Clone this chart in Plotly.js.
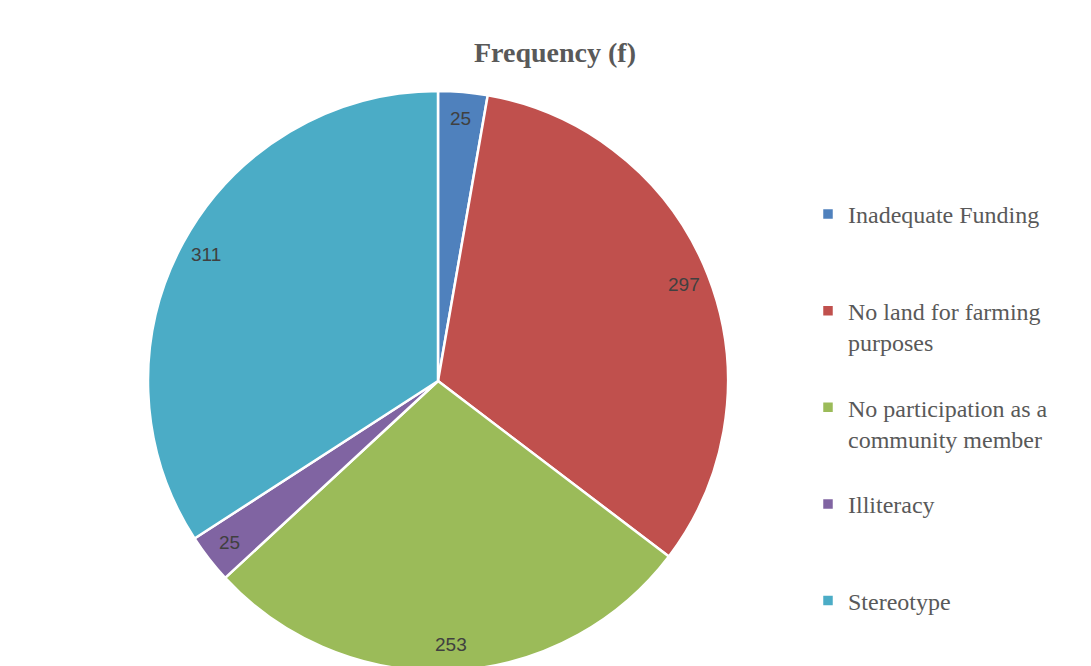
<!DOCTYPE html>
<html>
<head>
<meta charset="utf-8">
<script src="https://cdn.plot.ly/plotly-3.0.1.min.js"></script>
<style>
html,body{margin:0;padding:0;overflow:hidden;background:#fff;}
#chart{width:1091px;height:680px;}
</style>
</head>
<body>
<div id="chart"></div>
<script>
// Data
const categories = ["Inadequate Funding", "No land for farming purposes", "No participation as a community member", "Illiteracy", "Stereotype"];
const legendLabels = ["Inadequate Funding<br> <br> ", "No land for farming<br>purposes<br> ", "No participation as a<br>community member<br> ", "Illiteracy<br> <br> ", "Stereotype"];
const frequencies = [25, 297, 253, 25, 311];
const sliceColors = ["#4F81BD", "#C0504D", "#9BBB59", "#8064A2", "#4BACC6"];

// Layout geometry (pixels)
const W = 1091, H = 680;
const cx = 438, cy = 381, R = 290;

const trace = {
  type: "pie",
  labels: legendLabels,
  values: frequencies,
  sort: false,
  direction: "clockwise",
  rotation: 0,
  marker: {colors: sliceColors, line: {color: "#ffffff", width: 2.5}},
  textinfo: "none",
  hoverinfo: "label+value",
  domain: {x: [(cx - R) / W, (cx + R) / W], y: [1 - (cy + R) / H, 1 - (cy - R) / H]}
};

// value labels placed near the rim at each slice's mid-angle
const total = frequencies.reduce((a, b) => a + b, 0);
let cum = 0;
const annotations = frequencies.map((v) => {
  const mid = (cum + v / 2) / total * 2 * Math.PI;
  cum += v;
  const r = R * 0.91;
  const px = cx + r * Math.sin(mid);
  const py = cy - r * Math.cos(mid);
  return {
    text: String(v), x: px / W, y: 1 - py / H, xref: "paper", yref: "paper",
    showarrow: false, xanchor: "center", yanchor: "middle",
    font: {family: "Liberation Sans, Arial, sans-serif", size: 19, color: "#404040"}
  };
});

const layout = {
  width: W, height: H,
  margin: {l: 0, r: 0, t: 0, b: 0},
  paper_bgcolor: "#ffffff",
  title: {
    text: "<b>Frequency (f)</b>",
    x: 555 / W, xanchor: "center", xref: "paper",
    y: 1 - 52 / H, yanchor: "middle", yref: "container",
    font: {family: "Liberation Serif, Times New Roman, serif", size: 28, color: "#595959"}
  },
  showlegend: true,
  legend: {
    x: 808 / W, xanchor: "left",
    y: 1 - 192 / H, yanchor: "top",
    valign: "top",
    font: {family: "Liberation Serif, Times New Roman, serif", size: 24, color: "#595959"},
    itemclick: false, itemdoubleclick: false,
    bgcolor: "rgba(0,0,0,0)"
  },
  annotations: annotations
};

Plotly.newPlot("chart", [trace], layout, {displayModeBar: false, staticPlot: true});
</script>
</body>
</html>
